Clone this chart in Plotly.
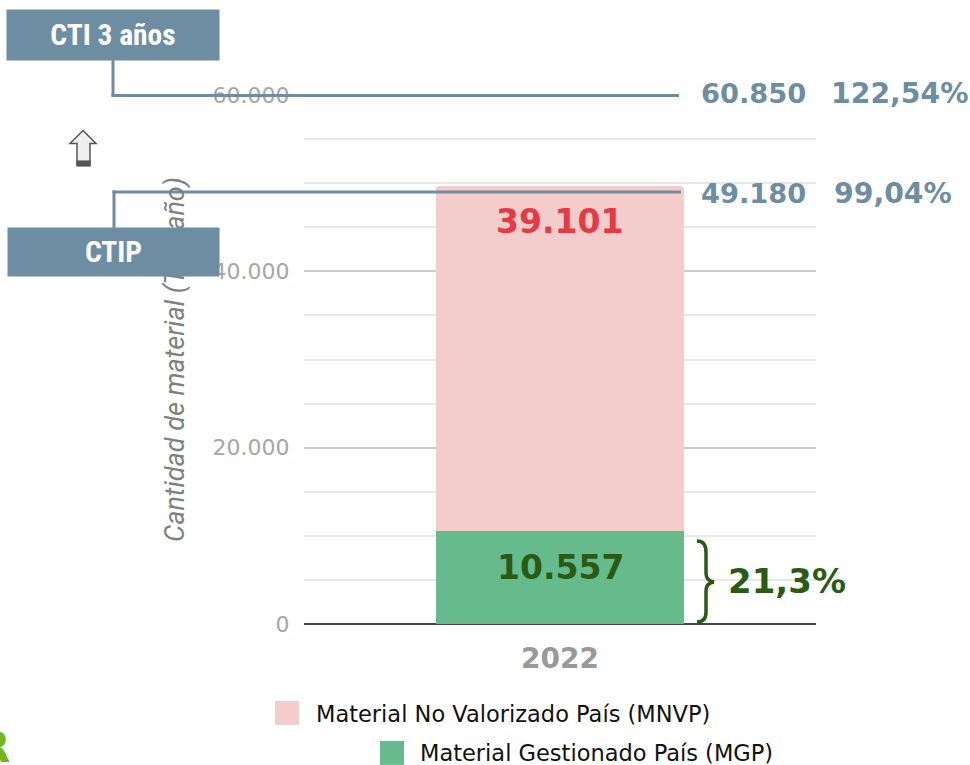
import plotly.graph_objects as go

years = ["2022"]
mgp = [10557]
mnvp = [39101]
name_mgp = "Material Gestionado País (MGP)"
name_mnvp = "Material No Valorizado País (MNVP)"
y_ticks = [0, 20000, 40000, 60000]
y_labels = ["0", "20.000", "40.000", "60.000"]
cti_label = "CTI 3 años"
ctip_label = "CTIP"
cti_values = ["60.850", "122,54%"]
ctip_values = ["49.180", "99,04%"]
mgp_share = "21,3%"

W, H = 970, 765
L, R, T, B = 304, 816, 94.5, 624
SLATE = "#6d8da3"
PINK = "#f4cccc"
GREEN = "#66bb8d"
DARKGREEN = "#2a5a14"
FONT = "DejaVu Sans"
NARROW = "Roboto Condensed, Liberation Sans Narrow, Roboto"

def px(x):
    return (x - L) / (R - L)

def py(y):
    return (B - y) / (B - T)

fig = go.Figure()
fig.add_bar(x=years, y=mgp, name=name_mgp, marker=dict(color=GREEN, line_width=0), width=0.484, showlegend=False)
fig.add_bar(x=years, y=mnvp, name=name_mnvp, marker=dict(color=PINK, line_width=0, cornerradius=3), width=0.484, showlegend=False)

shapes = []
def line(x0, y0, x1, y1, color=SLATE, width=3):
    shapes.append(dict(type="line", xref="paper", yref="paper", x0=px(x0), y0=py(y0), x1=px(x1), y1=py(y1),
                       line=dict(color=color, width=width), layer="above"))

line(113, 59, 113, 96)
line(111.5, 95, 679, 95)
line(114, 228, 114, 190)
line(112.5, 191.5, 681, 191.5)

def path(points):
    return " ".join(f"{c}{px(a):.5f},{py(b):.5f}" if c in "ML" else c for c, a, b in points)

# arrow
arrow = [("M", 83, 130), ("L", 96, 143), ("L", 90, 143), ("L", 90, 165), ("L", 77, 165), ("L", 77, 143), ("L", 70, 143), ("Z", 0, 0)]
shapes.append(dict(type="path", xref="paper", yref="paper", path=path(arrow), fillcolor="#efefef",
                   line=dict(color="#555555", width=1.5), layer="above"))
shapes.append(dict(type="rect", xref="paper", yref="paper", x0=px(76.5), x1=px(90.5), y0=py(160), y1=py(166),
                   fillcolor="#555555", line_width=0, layer="above"))

# brace
def q(x1, y1, x, y):
    return f"Q{px(x1):.5f},{py(y1):.5f} {px(x):.5f},{py(y):.5f}"
brace = (f"M{px(697):.5f},{py(541):.5f} " + q(706, 541, 706, 552) + f" L{px(706):.5f},{py(573):.5f} "
         + q(706, 581, 714, 582) + " " + q(706, 583, 706, 591) + f" L{px(706):.5f},{py(612):.5f} " + q(706, 622, 697, 622))
shapes.append(dict(type="path", xref="paper", yref="paper", path=brace, line=dict(color=DARKGREEN, width=3.5), layer="above"))

# legend swatches
for x0, y0, c in [(275, 701, PINK), (380, 741, GREEN)]:
    shapes.append(dict(type="rect", xref="paper", yref="paper", x0=px(x0), x1=px(x0 + 24), y0=py(y0), y1=py(y0 + 24),
                       fillcolor=c, line_width=0, layer="above"))

anns = []
def text(x, y, s, size, color, bold=True, anchor="left", family=FONT, **kw):
    anns.append(dict(xref="paper", yref="paper", x=px(x), y=py(y), text=f"<b>{s}</b>" if bold else s, showarrow=False,
                     xanchor=anchor, yanchor="middle", font=dict(family=family, size=size, color=color), **kw))

text(699, 93, cti_values[0], 27.3, SLATE)
text(829, 93, cti_values[1], 28.3, SLATE)
text(699, 193, ctip_values[0], 27.3, SLATE)
text(832, 193, ctip_values[1], 28.3, SLATE)
text(559, 221, f"{mnvp[0]:,}".replace(",", "."), 33, "#e63946", anchor="center")
text(560, 567, f"{mgp[0]:,}".replace(",", "."), 33, DARKGREEN, anchor="center")
text(726, 581, mgp_share, 34, DARKGREEN)
text(314, 714, name_mnvp, 22.5, "#111111", bold=False)
text(418, 753, name_mgp, 22.5, "#111111", bold=False)
text(113, 34, cti_label, 29.5, "white", anchor="center", family=NARROW, bgcolor=SLATE, width=212, height=50, align="center", valign="middle", borderpad=0)
text(113, 252, ctip_label, 29.5, "white", anchor="center", family=NARROW, bgcolor=SLATE, width=211, height=48, align="center", valign="middle", borderpad=0)
text(12, 748, "R", 42, "#76b51e", anchor="right")

fig.update_layout(
    width=W, height=H, autosize=False, barmode="stack", plot_bgcolor="white", paper_bgcolor="white",
    margin=dict(l=L, r=W - R, t=T, b=H - B), font=dict(family=FONT),
    shapes=shapes, annotations=anns, showlegend=False,
)
fig.update_xaxes(type="category", range=[-0.5, 0.5], showgrid=False, showline=False, ticks="outside", ticklen=9,
                 tickcolor="rgba(0,0,0,0)", tickfont=dict(size=28, color="#999999", family=FONT),
                 tickprefix="<b>", ticksuffix="</b>")
fig.update_yaxes(range=[0, 60000], tickmode="array", tickvals=y_ticks, ticktext=y_labels, showgrid=True, gridcolor="#cccccc",
                 gridwidth=2, zeroline=True, zerolinecolor="#444444", zerolinewidth=2, showline=False, ticks="outside",
                 ticklen=9, tickcolor="rgba(0,0,0,0)", tickfont=dict(size=22, color="#a6a6a6", family=FONT),
                 minor=dict(dtick=5000, tick0=0, showgrid=True, gridcolor="#e8e8e8", gridwidth=2, ticks=""),
                 title=dict(text="<i>Cantidad de material (Ton/año)</i>", standoff=20, font=dict(size=27, color="#808080", family="Roboto")))
fig.write_html("out.html", config={"displayModeBar": False}, post_script="document.body.style.margin='0';")
